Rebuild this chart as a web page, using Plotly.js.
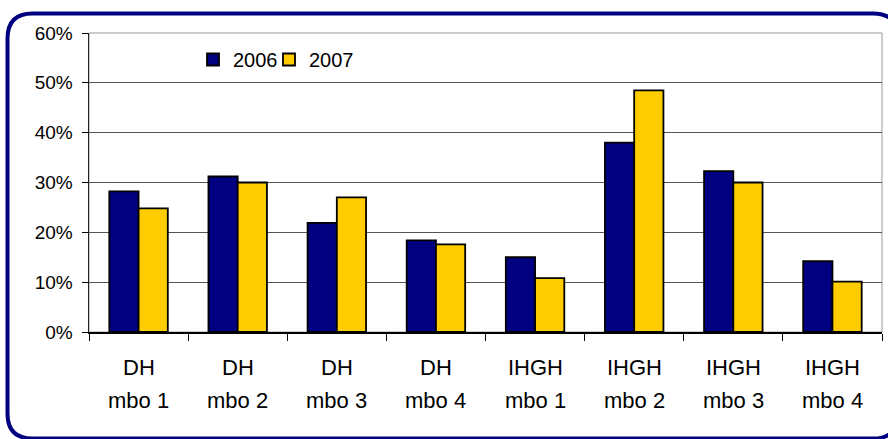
<!DOCTYPE html>
<html>
<head>
<meta charset="utf-8">
<script src="https://cdn.plot.ly/plotly-3.0.1.min.js"></script>
<style>html,body{margin:0;padding:0;background:#fff;}#chart{width:888px;height:439px;}</style>
</head>
<body>
<div id="chart"></div>
<script>
// ---- data ----
var groups = ['DH', 'DH', 'DH', 'DH', 'IHGH', 'IHGH', 'IHGH', 'IHGH'];
var subs = ['mbo 1', 'mbo 2', 'mbo 3', 'mbo 4', 'mbo 1', 'mbo 2', 'mbo 3', 'mbo 4'];
var values2006 = [0.282, 0.312, 0.219, 0.184, 0.150, 0.380, 0.323, 0.142];
var values2007 = [0.248, 0.300, 0.270, 0.176, 0.108, 0.485, 0.300, 0.101];
var seriesNames = ['2006', '2007'];
var yTickVals = [0, 0.1, 0.2, 0.3, 0.4, 0.5, 0.6];

var categories = groups.map(function (g, i) { return g + ' ' + subs[i]; });

// ---- layout geometry ----
var W = 888, H = 439;
var M = {l: 89, r: 6, t: 33, b: 107};
var PW = W - M.l - M.r, PH = H - M.t - M.b;
function X(px) { return (px - M.l) / PW; }
function Y(py) { return (H - M.b - py) / PH; }

var font = 'Liberation Sans, Arial, sans-serif';

var traces = [
  {type: 'bar', name: seriesNames[0], x: categories, y: values2006, legend: 'legend',
   marker: {color: '#000080', line: {color: '#000000', width: 1.8}}, hoverinfo: 'none'},
  {type: 'bar', name: seriesNames[1], x: categories, y: values2007, legend: 'legend2',
   marker: {color: '#FFCC00', line: {color: '#000000', width: 1.8}}, hoverinfo: 'none'}
];

// rounded border
var bl = 7.5, br = 898, bt = 13.5, bb = 438.5, rr = 25;
var p = 'M' + X(bl + rr) + ',' + Y(bt) +
  ' L' + X(br - rr) + ',' + Y(bt) +
  ' Q' + X(br) + ',' + Y(bt) + ' ' + X(br) + ',' + Y(bt + rr) +
  ' L' + X(br) + ',' + Y(bb - rr) +
  ' Q' + X(br) + ',' + Y(bb) + ' ' + X(br - rr) + ',' + Y(bb) +
  ' L' + X(bl + rr) + ',' + Y(bb) +
  ' Q' + X(bl) + ',' + Y(bb) + ' ' + X(bl) + ',' + Y(bb - rr) +
  ' L' + X(bl) + ',' + Y(bt + rr) +
  ' Q' + X(bl) + ',' + Y(bt) + ' ' + X(bl + rr) + ',' + Y(bt) + ' Z';

var shapes = [
  {type: 'rect', xref: 'paper', yref: 'paper', x0: 0, x1: 1, y0: 0, y1: 1,
   line: {color: '#999999', width: 1}, layer: 'below'},
  {type: 'path', xref: 'paper', yref: 'paper', path: p,
   line: {color: '#000080', width: 4}}
];

var annotations = [];
categories.forEach(function (c, i) {
  annotations.push({xref: 'x', yref: 'paper', x: c, y: Y(367), yanchor: 'middle',
    text: groups[i], showarrow: false, font: {family: font, size: 22, color: '#000'}});
  annotations.push({xref: 'x', yref: 'paper', x: c, y: Y(400), yanchor: 'middle',
    text: subs[i], showarrow: false, font: {family: font, size: 22, color: '#000'}});
});

function legendAt(px) {
  return {orientation: 'h', x: X(px), xanchor: 'left', y: Y(59.5), yanchor: 'middle',
    font: {family: font, size: 20, color: '#000'}, bgcolor: 'rgba(0,0,0,0)'};
}

var layout = {
  width: W, height: H,
  margin: M,
  paper_bgcolor: '#ffffff', plot_bgcolor: '#ffffff',
  font: {family: font, color: '#000'},
  barmode: 'group', bargap: 0.41, bargroupgap: 0,
  showlegend: true,
  legend: legendAt(193),
  legend2: legendAt(269),
  xaxis: {type: 'category', showticklabels: false, ticks: 'outside', tickson: 'boundaries',
    ticklen: 7, tickcolor: '#000', tickwidth: 1, showline: true, linecolor: '#000', linewidth: 2,
    showgrid: false, fixedrange: true},
  yaxis: {range: [0, 0.6], tickvals: yTickVals, tickformat: '.0%', ticks: 'outside', ticklen: 6,
    ticklabelstandoff: 5,
    tickcolor: '#000', showline: true, linecolor: '#222', linewidth: 1.5,
    showgrid: true, gridcolor: '#555555', gridwidth: 1, zeroline: false,
    tickfont: {family: font, size: 19, color: '#000'}, fixedrange: true},
  shapes: shapes,
  annotations: annotations
};

Plotly.newPlot('chart', traces, layout, {staticPlot: true, displayModeBar: false});
</script>
</body>
</html>
